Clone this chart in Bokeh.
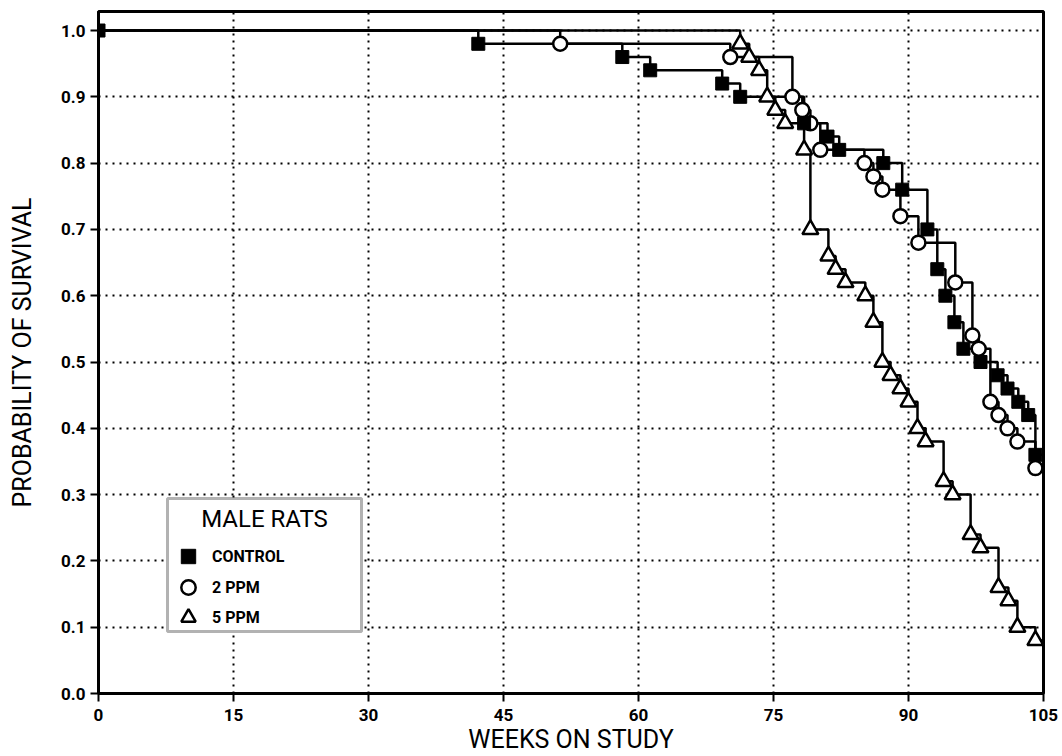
from bokeh.plotting import figure
from bokeh.models import FixedTicker, Legend, LegendItem, BoxAnnotation, Label, Range1d
from bokeh.embed import file_html
from bokeh.resources import INLINE

# ---- data (weeks on study, probability of survival) ----
weeks_control = [0, 42.2, 58.2, 61.3, 69.3, 71.3, 78.4, 81.0, 82.3, 87.2, 89.3, 92.1,
                 93.2, 94.1, 95.1, 96.1, 98.0, 99.9, 101.0, 102.2, 103.3, 104.1]
surv_control = [1.00, 0.98, 0.96, 0.94, 0.92, 0.90, 0.86, 0.84, 0.82, 0.80, 0.76, 0.70,
                0.64, 0.60, 0.56, 0.52, 0.50, 0.48, 0.46, 0.44, 0.42, 0.36]

weeks_2ppm = [0, 51.3, 70.2, 77.1, 78.2, 79.1, 80.2, 85.1, 86.1, 87.1, 89.1, 91.1,
              95.2, 97.1, 97.8, 99.1, 100.0, 101.0, 102.1, 104.1]
surv_2ppm = [1.00, 0.98, 0.96, 0.90, 0.88, 0.86, 0.82, 0.80, 0.78, 0.76, 0.72, 0.68,
             0.62, 0.54, 0.52, 0.44, 0.42, 0.40, 0.38, 0.34]

weeks_5ppm = [0, 71.3, 72.3, 73.4, 74.3, 75.2, 76.3, 78.4, 79.1, 81.1, 81.9, 83.0,
              85.2, 86.1, 87.1, 88.0, 89.1, 90.0, 91.0, 91.9, 93.9, 94.9, 96.9, 98.0,
              100.0, 101.1, 102.1, 104.1]
surv_5ppm = [1.00, 0.98, 0.96, 0.94, 0.90, 0.88, 0.86, 0.82, 0.70, 0.66, 0.64, 0.62,
             0.60, 0.56, 0.50, 0.48, 0.46, 0.44, 0.40, 0.38, 0.32, 0.30, 0.24, 0.22,
             0.16, 0.14, 0.10, 0.08]

end_week = 105

x_ticks = [0, 15, 30, 45, 60, 75, 90, 105]
x_tick_labels = ["0", "15", "30", "45", "60", "75", "90", "105"]
y_ticks = [0.0, 0.1, 0.2, 0.3, 0.4, 0.5, 0.6, 0.7, 0.8, 0.9, 1.0]
y_tick_labels = ["0.0", "0.1", "0.2", "0.3", "0.4", "0.5", "0.6", "0.7", "0.8", "0.9", "1.0"]

series_names = ["CONTROL", "2 PPM", "5 PPM"]
legend_title = "MALE RATS"
x_label = "WEEKS ON STUDY"
y_label = "PROBABILITY OF SURVIVAL"

FONT = "Roboto"

p = figure(width=1062, height=756,
           x_range=Range1d(0, 105), y_range=Range1d(0, 1.0287),
           output_backend="svg", toolbar_location=None,
           min_border_left=98, min_border_right=19, min_border_top=11, min_border_bottom=63)

p.background_fill_color = "white"
p.border_fill_color = "white"
p.outline_line_color = "black"
p.outline_line_width = 3

# axes
p.xaxis.ticker = FixedTicker(ticks=x_ticks)
p.yaxis.ticker = FixedTicker(ticks=y_ticks)
p.xaxis.major_label_overrides = {t: l for t, l in zip(x_ticks, x_tick_labels)}
p.yaxis.major_label_overrides = {t: l for t, l in zip(y_ticks, y_tick_labels)}
for ax in (p.xaxis[0], p.yaxis[0]):
    ax.axis_line_width = 3
    ax.axis_line_color = "black"
    ax.major_tick_line_width = 2
    ax.major_tick_line_color = "black"
    ax.major_tick_out = 8
    ax.major_tick_in = 0
    ax.minor_tick_line_color = None
    ax.major_label_text_font = FONT
    ax.major_label_text_font_style = "bold"
    ax.major_label_text_font_size = "17px"
    ax.major_label_text_color = "black"
    ax.axis_label_text_font = FONT
    ax.axis_label_text_font_style = "normal"
    ax.axis_label_text_font_size = "25px"
    ax.axis_label_text_color = "black"

p.xaxis.axis_label = x_label
p.yaxis.axis_label = y_label
p.xaxis.major_label_standoff = 7
p.xaxis.axis_label_standoff = 1
p.yaxis.major_label_standoff = 5
p.yaxis.axis_label_standoff = 21

# grid
p.xgrid.ticker = FixedTicker(ticks=x_ticks)
p.ygrid.ticker = FixedTicker(ticks=y_ticks)
for g in (p.xgrid[0], p.ygrid[0]):
    g.grid_line_color = "black"
    g.grid_line_dash = "2 5"
    g.grid_line_width = 2

# step lines
def ext(xs, ys):
    return list(xs) + [end_week], list(ys) + [ys[-1]]

for xs, ys in ((weeks_5ppm, surv_5ppm), (weeks_2ppm, surv_2ppm), (weeks_control, surv_control)):
    ex, ey = ext(xs, ys)
    p.step(ex, ey, mode="after", line_color="black", line_width=2.5)

# markers
r5 = p.scatter(weeks_5ppm[1:], surv_5ppm[1:], marker="triangle", size=16,
               fill_color="white", line_color="black", line_width=2.5)
r2 = p.scatter(weeks_2ppm[1:], surv_2ppm[1:], marker="circle", size=14,
               fill_color="white", line_color="black", line_width=2.5)
rc = p.scatter(weeks_control, surv_control, marker="square", size=13,
               fill_color="black", line_color="black", line_width=1)

# legend box and title
box = BoxAnnotation(left=69, right=263, bottom=62, top=195,
                    left_units="screen", right_units="screen",
                    top_units="screen", bottom_units="screen",
                    fill_color="white", fill_alpha=1.0,
                    line_color="black", line_width=3)
p.add_layout(box)

title = Label(x=166, y=175, x_units="screen", y_units="screen", text=legend_title,
              text_align="center", text_baseline="middle",
              text_font=FONT, text_font_size="24px", text_color="black")
p.add_layout(title)

# one legend per entry so that each row can be placed like the reference
for name, rend, ypos in zip(series_names, [rc, r2, r5], [119, 88, 58]):
    lg = Legend(items=[LegendItem(label=name, renderers=[rend])],
                location=(72, ypos), margin=0, padding=0,
                glyph_width=36, glyph_height=36, label_height=20,
                spacing=0, label_standoff=6,
                border_line_alpha=0, background_fill_alpha=0)
    lg.label_text_font = FONT
    lg.label_text_font_style = "bold"
    lg.label_text_font_size = "16px"
    lg.label_text_color = "black"
    p.add_layout(lg)

open("out.html", "w").write(file_html(p, INLINE))
